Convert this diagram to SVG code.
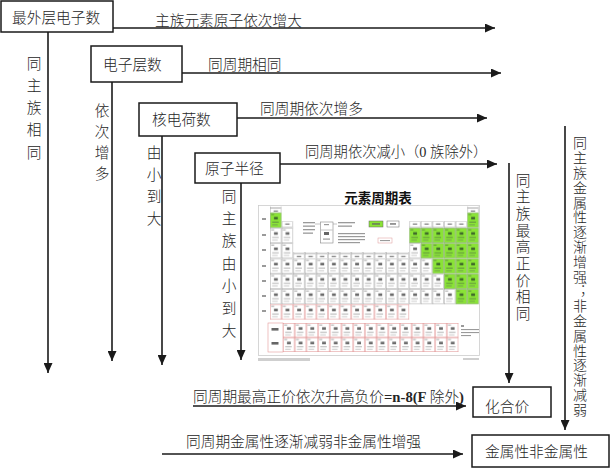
<svg xmlns="http://www.w3.org/2000/svg" width="611" height="468" viewBox="0 0 611 468">
<style>
.t{font-family:"Liberation Serif","Noto Sans CJK SC",serif;font-size:14.7px;fill:#262626;font-weight:300}
.v{font-family:"Noto Sans CJK SC",sans-serif;font-size:14.7px;fill:#262626;font-weight:300;writing-mode:vertical-rl;text-orientation:upright}
.box{fill:#fff;stroke:#1a1a1a;stroke-width:1.5}
.ln{stroke:#1a1a1a;stroke-width:1.6;fill:none;marker-end:url(#ah)}
.bar{fill:#9a9a9a}
.dk{fill:#666}
.lb{fill:#cfcfcf}
</style>
<defs>
<marker id="ah" markerUnits="userSpaceOnUse" markerWidth="10" markerHeight="9" refX="10" refY="4.5" orient="auto">
<path d="M0,0 L10,4.5 L0,9 z" fill="#1a1a1a"/>
</marker>
<pattern id="cw" patternUnits="userSpaceOnUse" x="270" y="212.5" width="11.6" height="15.3">
<rect x="0.25" y="0.25" width="11.1" height="14.8" fill="#fff" stroke="#a8a8a8" stroke-width="0.5"/>
<rect x="1.2" y="1.6" width="3" height="0.9" fill="#a0a0a0"/>
<rect x="4" y="4.4" width="3.8" height="2.6" fill="#6a6a6a"/>
<rect x="2.2" y="9.2" width="6.5" height="1" fill="#b4b4b4"/>
<rect x="2.2" y="11.9" width="5.5" height="0.9" fill="#c4c4c4"/>
</pattern>
<pattern id="cg" patternUnits="userSpaceOnUse" x="270" y="212.5" width="11.6" height="15.3">
<rect x="0.25" y="0.25" width="11.1" height="14.8" fill="#8ae336" stroke="#8aa878" stroke-width="0.5"/>
<rect x="1.2" y="1.6" width="3" height="0.9" fill="#5f8f3f"/>
<rect x="4" y="4.4" width="3.8" height="2.6" fill="#3f6a2a"/>
<rect x="2.2" y="9.2" width="6.5" height="1" fill="#5f8f3f"/>
<rect x="2.2" y="11.9" width="5.5" height="0.9" fill="#6f9f4f"/>
</pattern>
<pattern id="cr" patternUnits="userSpaceOnUse" x="270" y="212.5" width="11.6" height="15.3">
<rect x="0.25" y="0.25" width="11.1" height="14.8" fill="#fff" stroke="#e39a9a" stroke-width="0.6"/>
<rect x="1.2" y="1.6" width="3" height="0.9" fill="#a0a0a0"/>
<rect x="4" y="4.4" width="3.8" height="2.6" fill="#6a6a6a"/>
<rect x="2.2" y="9.2" width="6.5" height="1" fill="#b4b4b4"/>
<rect x="2.2" y="11.9" width="5.5" height="0.9" fill="#c4c4c4"/>
</pattern>
<pattern id="cl" patternUnits="userSpaceOnUse" x="283" y="323" width="11.7" height="14.5">
<rect x="0.25" y="0.25" width="11.2" height="14" fill="#fff" stroke="#e39a9a" stroke-width="0.6"/>
<rect x="1.2" y="1.6" width="3" height="0.9" fill="#a0a0a0"/>
<rect x="4" y="4.2" width="3.8" height="2.6" fill="#6a6a6a"/>
<rect x="2.2" y="8.8" width="6.5" height="1" fill="#b4b4b4"/>
<rect x="2.2" y="11.4" width="5.5" height="0.9" fill="#c4c4c4"/>
</pattern>
<pattern id="ch" patternUnits="userSpaceOnUse" x="270" y="0" width="11.6" height="6.5">
<rect x="0.5" y="0.25" width="10.6" height="6" fill="#fff" stroke="#a8a8a8" stroke-width="0.5"/>
<rect x="3.6" y="2.5" width="4.4" height="1.2" fill="#7a7a7a"/>
</pattern>
</defs>

<rect width="611" height="468" fill="#fff"/>

<!-- periodic table picture -->
<g id="ptable">
<text x="378" y="203" text-anchor="middle" style="font-family:'Noto Sans CJK SC',sans-serif;font-size:13.5px;font-weight:bold;fill:#111">元素周期表</text>
<rect x="258.5" y="205.5" width="221" height="150" fill="#fff" stroke="#cccccc" stroke-width="0.8"/>
<g class="bar">
<rect x="262" y="218" width="4" height="2"/><rect x="262" y="234" width="4" height="2"/><rect x="262" y="249" width="4" height="2"/>
<rect x="262" y="265" width="4" height="2"/><rect x="262" y="280" width="4" height="2"/><rect x="262" y="295" width="4" height="2"/><rect x="262" y="310" width="4" height="2"/>
</g>
<rect x="270" y="206.5" width="11.6" height="6" fill="url(#ch)"/>
<rect x="467.2" y="206.5" width="11.6" height="6" fill="url(#ch)"/>
<rect x="281.6" y="221.3" width="11.6" height="6.5" fill="url(#ch)"/>
<rect x="409.2" y="221.3" width="58" height="6.5" fill="url(#ch)"/>
<rect x="293.2" y="252" width="116" height="6.4" fill="url(#ch)"/>
<rect x="270" y="227.8" width="23.2" height="30.6" fill="url(#cw)"/>
<rect x="270" y="258.4" width="139.2" height="45.9" fill="url(#cw)"/>
<rect x="270" y="304.3" width="139.2" height="15.3" fill="url(#cr)"/>
<rect x="409.2" y="243.1" width="11.6" height="15.3" fill="url(#cw)"/>
<rect x="409.2" y="258.4" width="23.2" height="15.3" fill="url(#cw)"/>
<rect x="409.2" y="273.7" width="34.8" height="15.3" fill="url(#cw)"/>
<rect x="409.2" y="289" width="46.4" height="15.3" fill="url(#cw)"/>
<rect x="270" y="212.5" width="11.6" height="15.3" fill="url(#cg)"/>
<rect x="467.2" y="212.5" width="11.6" height="15.3" fill="url(#cg)"/>
<rect x="409.2" y="227.8" width="69.6" height="15.3" fill="url(#cg)"/>
<rect x="420.8" y="243.1" width="58" height="15.3" fill="url(#cg)"/>
<rect x="432.4" y="258.4" width="46.4" height="15.3" fill="url(#cg)"/>
<rect x="444" y="273.7" width="34.8" height="15.3" fill="url(#cg)"/>
<rect x="455.6" y="289" width="23.2" height="15.3" fill="url(#cg)"/>
<g class="bar">
<rect x="303" y="222" width="12" height="1.3"/><rect x="303" y="225.5" width="12" height="1.3"/><rect x="303" y="229" width="12" height="1.3"/><rect x="303" y="232.5" width="10" height="1.3"/>
<rect x="338" y="222" width="17" height="1.3"/><rect x="338" y="225.5" width="14" height="1.3"/>
<rect x="338" y="233" width="27" height="1.2"/><rect x="338" y="236" width="27" height="1.2"/><rect x="338" y="239" width="27" height="1.2"/><rect x="338" y="242" width="22" height="1.2"/>
</g>
<rect x="320.5" y="222" width="12.5" height="21" fill="#fff" stroke="#888" stroke-width="0.6"/>
<path d="M321 230 H332.5" stroke="#888" stroke-width="0.5"/>
<rect x="324" y="224" width="5" height="1.2" class="bar"/>
<rect x="324" y="232" width="5" height="3" class="dk"/>
<rect x="323" y="238.5" width="7" height="1.2" class="bar"/>
<path d="M315 224 H320.5 M333 224 H337" stroke="#888" stroke-width="0.5"/>
<rect x="369" y="221" width="14" height="6" fill="#8ae336" stroke="#666" stroke-width="0.5"/>
<rect x="372" y="223.3" width="8" height="1.3" class="dk"/>
<rect x="387" y="221" width="12" height="6" fill="#fff" stroke="#666" stroke-width="0.5"/>
<rect x="390" y="223.3" width="6" height="1.3" class="dk"/>
<rect x="378" y="238" width="14" height="5" fill="#fff" stroke="#d99" stroke-width="0.5"/>
<rect x="380" y="240" width="10" height="1.1" class="bar"/>
<rect x="268" y="323" width="15" height="29" fill="#fff" stroke="#e39a9a" stroke-width="0.6"/>
<rect x="271.5" y="328" width="7" height="2.6" class="dk"/>
<rect x="271.5" y="342" width="7" height="2.6" class="dk"/>
<rect x="283" y="323" width="175.5" height="29" fill="url(#cl)"/>
<g class="bar">
<rect x="461" y="325" width="3" height="2"/>
<rect x="461" y="329" width="18" height="1.1"/><rect x="461" y="332" width="18" height="1.1"/><rect x="461" y="335" width="10" height="1.1"/>
</g>
<rect x="258" y="358" width="52" height="3" class="lb"/>
<rect x="463" y="358" width="16" height="2" class="lb"/>
</g>

<!-- nodes -->
<g id="n-outer">
<rect class="box" x="1" y="1" width="112" height="31"/>
<text class="t" x="12" y="23">最外层电子数</text>
</g>
<g id="n-layers">
<rect class="box" x="91" y="46" width="91" height="36"/>
<text class="t" x="103" y="69.5">电子层数</text>
</g>
<g id="n-charge">
<rect class="box" x="139" y="103" width="98" height="33"/>
<text class="t" x="152" y="124.5">核电荷数</text>
</g>
<g id="n-radius">
<rect class="box" x="195" y="153" width="85" height="30"/>
<text class="t" x="205" y="173.5">原子半径</text>
</g>
<g id="n-valence">
<rect class="box" x="473" y="387" width="78" height="30"/>
<text class="t" x="485" y="412">化合价</text>
</g>
<g id="n-metal">
<rect class="box" x="472" y="435" width="137" height="32"/>
<text class="t" x="485" y="457">金属性非金属性</text>
</g>

<!-- connectors -->
<g id="connectors">
<line class="ln" x1="113" y1="28" x2="495" y2="28"/>
<line class="ln" x1="182" y1="73" x2="501" y2="73"/>
<line class="ln" x1="237" y1="118" x2="487" y2="118"/>
<line class="ln" x1="280" y1="164" x2="497" y2="164"/>
<line class="ln" x1="48" y1="32" x2="48" y2="373"/>
<line class="ln" x1="112" y1="82" x2="112" y2="361"/>
<line class="ln" x1="162" y1="136" x2="162" y2="365"/>
<line class="ln" x1="241" y1="183" x2="241" y2="360"/>
<line class="ln" x1="509" y1="163" x2="509" y2="383"/>
<line class="ln" x1="565" y1="126" x2="565" y2="430"/>
<line class="ln" x1="193" y1="406" x2="466" y2="406"/>
<line class="ln" x1="162" y1="454" x2="463" y2="454"/>
</g>

<!-- connector labels -->
<g id="labels">
<text class="t" x="155" y="25.5">主族元素原子依次增大</text>
<text class="t" x="208" y="69.5">同周期相同</text>
<text class="t" x="260" y="114">同周期依次增多</text>
<text class="t" x="305" y="156.5" style="font-size:14.3px">同周期依次减小（0 族除外）</text>
<text class="t" x="193" y="401.5">同周期最高正价依次升高负价<tspan style="font-weight:bold">=n-8(F </tspan>除外<tspan style="font-weight:bold">)</tspan></text>
<text class="t" x="186" y="446.5">同周期金属性逐渐减弱非金属性增强</text>

<text class="v" x="34" y="55.6" style="letter-spacing:7.6px">同主族相同</text>
<text class="v" x="102" y="102.6" style="letter-spacing:6.3px">依次增多</text>
<text class="v" x="154" y="144.6" style="letter-spacing:7.3px">由小到大</text>
<text class="v" x="229" y="188.6" style="letter-spacing:7.7px">同主族由小到大</text>
<text class="v" x="523" y="172.6" style="letter-spacing:2px">同主族最高正价相同</text>
<text class="v" x="580" y="136" style="font-size:14px;letter-spacing:0.8px">同主族金属性逐渐增强；非金属性逐渐减弱</text>
</g>
</svg>
